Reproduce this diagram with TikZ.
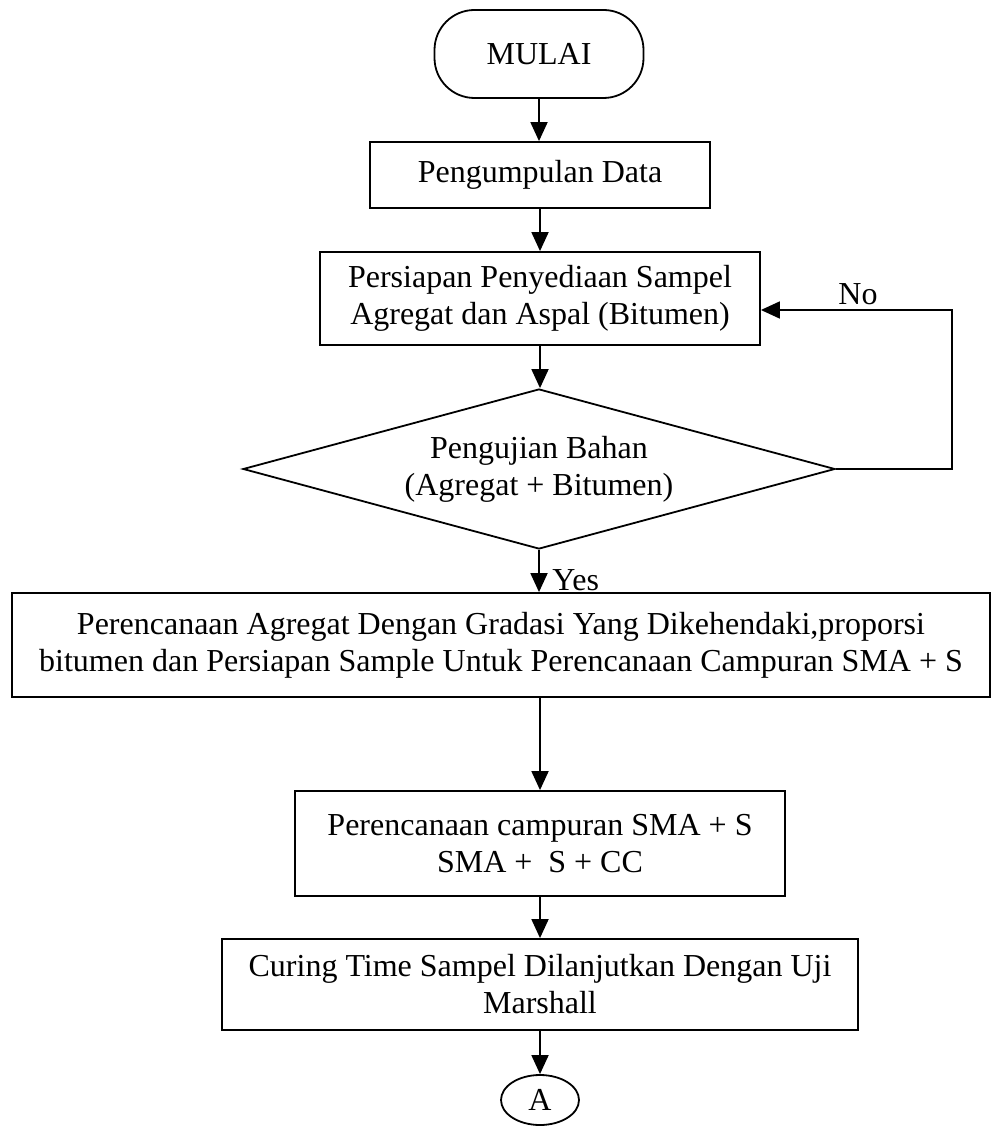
\documentclass[tikz,border=0pt]{standalone}
\usepackage{fontspec}
\setmainfont{Liberation Serif}
\usetikzlibrary{arrows.meta,shapes.geometric}
\begin{document}
\begin{tikzpicture}[x=0.5pt,y=-0.5pt,
  font=\fontsize{16}{18.5}\selectfont,
  proc/.style={draw,line width=0.9pt,align=center,inner sep=0pt},
  flow/.style={line width=0.9pt,-{Triangle[length=9.5pt,width=8.5pt]}},
  lbl/.style={inner sep=0pt}
]
\useasboundingbox (0,0) rectangle (992,1127);

\node[proc, rounded corners=20pt, minimum width=104.5pt, minimum height=44pt] (start) at (539,54) {MULAI};
\node[proc, minimum width=170pt, minimum height=33pt] (box1) at (540,175) {Pengumpulan Data};
\node[proc, minimum width=220pt, minimum height=46.5pt] (box2) at (540,298.5) {Persiapan Penyediaan Sampel\\Agregat dan Aspal (Bitumen)};
\node[proc, shape=diamond, aspect=3.7, minimum width=296pt, minimum height=80pt] (dec) at (539,469) {Pengujian Bahan\\(Agregat + Bitumen)};
\node[proc, minimum width=489pt, minimum height=52pt] (big) at (501,645) {Perencanaan Agregat Dengan Gradasi Yang Dikehendaki,proporsi\\bitumen dan Persiapan Sample Untuk Perencanaan Campuran SMA + S};
\node[proc, minimum width=245pt, minimum height=52.5pt] (box3) at (540,843.5) {Perencanaan campuran SMA + S\\SMA + \ S + CC};
\node[proc, minimum width=318pt, minimum height=45.5pt] (box4) at (540,984.5) {Curing Time Sampel Dilanjutkan Dengan Uji\\Marshall};
\node[proc, shape=ellipse, minimum width=39pt, minimum height=25pt] (endA) at (540,1100) {A};

\coordinate (nc) at (952,310);
\node[lbl, anchor=base] (nolab) at (858,305) {No};
\node[lbl, anchor=base west] (yeslab) at (552,590) {Yes};

\draw[flow] (start.south) -- (start.south |- box1.north);
\draw[flow] (box1.south) -- (box2.north);
\draw[flow] (box2.south) -- (box2.south |- dec.north);
\draw[flow] (dec.south) -- (dec.south |- big.north);
\draw[flow] (big.south -| box3.north) -- (box3.north);
\draw[flow] (box3.south) -- (box4.north);
\draw[flow] (box4.south) -- (endA.north);
\draw[flow] (dec.east) -- (dec.east -| nc) -- (nc) -- (box2.east |- nc);
\end{tikzpicture}
\end{document}
